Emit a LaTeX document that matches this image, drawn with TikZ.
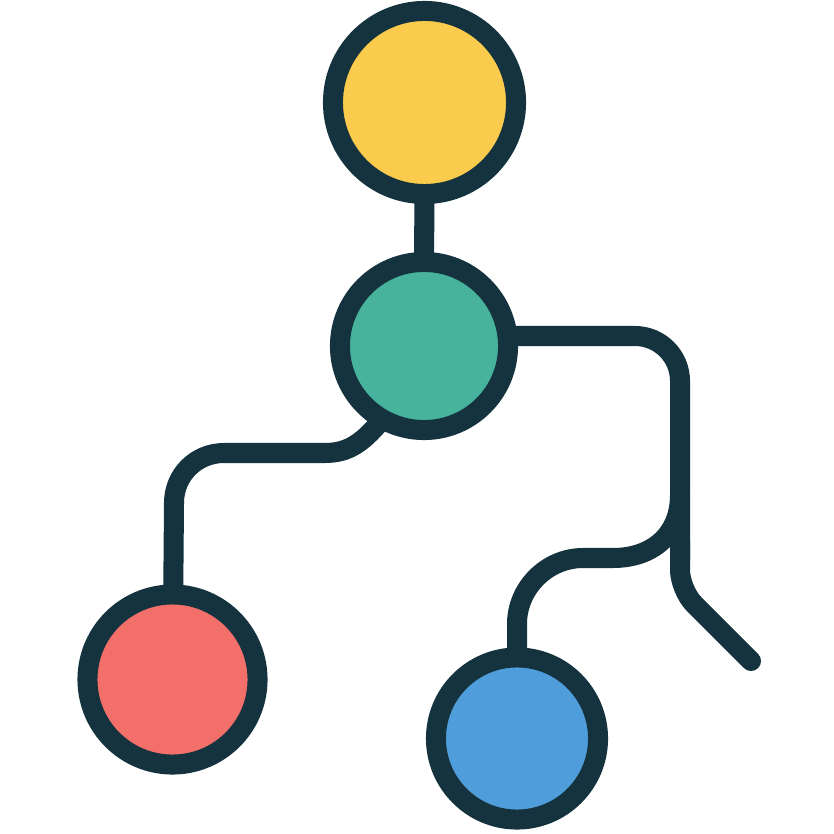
\documentclass[tikz,border=0pt]{standalone}
\usepackage{xcolor}
\usepackage{tikz}
\usetikzlibrary{backgrounds}

\definecolor{ink}{HTML}{14333E}
\definecolor{sun}{HTML}{FBCB4E}
\definecolor{mint}{HTML}{48B39C}
\definecolor{coral}{HTML}{F26F6A}
\definecolor{sky}{HTML}{4F9EDB}

\tikzset{
	blob/.style = {circle, draw = ink, line width = 2mm, inner sep = 0pt},
	wire/.style = {draw = ink, line width = 2mm, line cap = round}
}

\begin{document}
\begin{tikzpicture}[x = 0.01cm, y = -0.01cm]
			\useasboundingbox (0,0) rectangle (834,834);
			
			\node [blob, fill = sun, minimum size = 1.83cm] (root) at (424.5,102.5) {};
			\node [blob, fill = mint, minimum size = 1.68cm] (hub) at (424,346) {};
			\node [blob, fill = coral, minimum size = 1.70cm] (leafL) at (172.5,679.5) {};
			\node [blob, fill = sky, minimum size = 1.62cm] (leafR) at (517,738.5) {};
			
			\coordinate (tail) at (751,661);
			
			\begin{scope}[on background layer]
				\draw [wire] (root.center) -- (hub.center);
				
				\draw [wire, rounded corners = 4.5mm] (hub.center) ++(0,-10) -- (680,336) -- (680,560);
				\draw [wire, rounded corners = 2mm] (680,540) -- (680,590) -- (tail);
				
				\draw [wire] (680,495) .. controls (680,535) and (652,558) .. (613,558) -- (583,558)
					.. controls (547,558) and (517,588) .. (517,624) -- (leafR.center);
				
				\draw [wire] (hub.center) -- (380,422) .. controls (362,443) and (348,453) .. (325,453) -- (224,453)
					.. controls (196,453) and (174,475) .. (174,503) -- (leafL.center);
			\end{scope}
			
		\end{tikzpicture}
\end{document}
